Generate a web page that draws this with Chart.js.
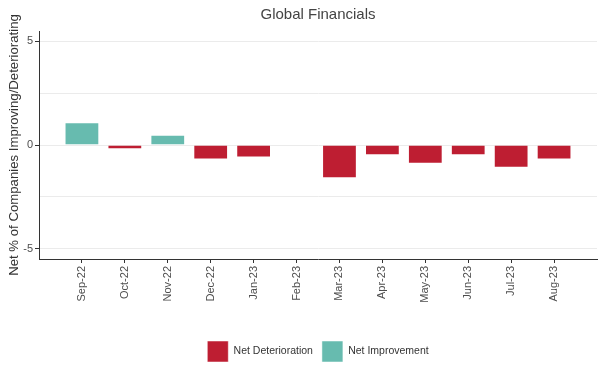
<!DOCTYPE html>
<html>
<head>
<meta charset="utf-8">
<script src="https://cdn.jsdelivr.net/npm/chart.js@4/dist/chart.umd.min.js"></script>
<style>
  html, body { margin: 0; padding: 0; background: #ffffff; }
  #wrap { width: 605px; height: 378px; position: relative; }
</style>
</head>
<body>
<div id="wrap"><canvas id="c" width="605" height="378"></canvas></div>
<script>
const categories = ['Sep-22', 'Oct-22', 'Nov-22', 'Dec-22', 'Jan-23', 'Feb-23', 'Mar-23', 'Apr-23', 'May-23', 'Jun-23', 'Jul-23', 'Aug-23'];
const netDeterioration = [null, -0.2, null, -0.7, -0.6, null, -1.6, -0.5, -0.9, -0.5, -1.1, -0.7];
const netImprovement   = [1.1, null, 0.5, null, null, null, null, null, null, null, null, null];
const yTickLabels = [-5, 0, 5];

const FONT = "'Liberation Sans', Arial, sans-serif";
const labels = [''].concat(categories, ['']);
const pad = arr => [null].concat(arr, [null]);

new Chart(document.getElementById('c'), {
  type: 'bar',
  data: {
    labels: labels,
    datasets: [
      {
        label: 'Net Deterioration',
        data: pad(netDeterioration),
        backgroundColor: '#BE1E32',
        borderColor: 'rgba(255,255,255,0.5)',
        borderWidth: 1
      },
      {
        label: 'Net Improvement',
        data: pad(netImprovement),
        backgroundColor: '#67BBAF',
        borderColor: 'rgba(255,255,255,0.5)',
        borderWidth: 1
      }
    ]
  },
  options: {
    responsive: false,
    animation: false,
    devicePixelRatio: 1,
    grouped: false,
    barPercentage: 0.81,
    categoryPercentage: 1.0,
    layout: { padding: { left: 0, right: 8, top: 0, bottom: 6 } },
    plugins: {
      title: {
        display: true,
        text: 'Global Financials',
        fullSize: false,
        color: '#444',
        font: { family: FONT, size: 15, weight: 'normal' },
        padding: { top: 6, bottom: 7 }
      },
      legend: {
        position: 'bottom',
        fullSize: false,
        labels: {
          boxWidth: 21,
          boxHeight: 21,
          padding: 9,
          color: '#333',
          font: { family: FONT, size: 10.5 }
        }
      },
      tooltip: { enabled: false }
    },
    scales: {
      x: {
        type: 'category',
        offset: false,
        grid: {
          offset: false,
          drawOnChartArea: false,
          drawTicks: true,
          tickLength: 4,
          tickColor: ctx => (labels[ctx.index] !== '' && ctx.index !== undefined) ? '#333' : 'rgba(0,0,0,0)'
        },
        border: { display: true, color: '#333', width: 1 },
        ticks: {
          autoSkip: false,
          minRotation: 90,
          maxRotation: 90,
          padding: 3,
          color: '#4d4d4d',
          font: { family: FONT, size: 11 }
        },
        afterFit: s => { s.height = 73; s.paddingRight = 0; s.paddingLeft = 0; }
      },
      y: {
        min: -5.5,
        max: 5.5,
        grid: {
          color: '#ebebeb',
          lineWidth: 1,
          drawTicks: true,
          tickLength: 4,
          tickColor: ctx => (ctx.tick && yTickLabels.includes(ctx.tick.value)) ? '#333' : 'rgba(0,0,0,0)'
        },
        border: { display: true, color: '#333', width: 1 },
        ticks: {
          stepSize: 2.5,
          includeBounds: false,
          padding: 2,
          color: '#4d4d4d',
          font: { family: FONT, size: 11 },
          callback: v => yTickLabels.includes(v) ? String(v) : ''
        },
        title: {
          display: true,
          text: 'Net % of Companies Improving/Deteriorating',
          color: '#333',
          font: { family: FONT, size: 13.2 },
          padding: { top: 6, bottom: 0 }
        },
        afterFit: s => { s.width = 39; }
      }
    }
  }
});
</script>
</body>
</html>
